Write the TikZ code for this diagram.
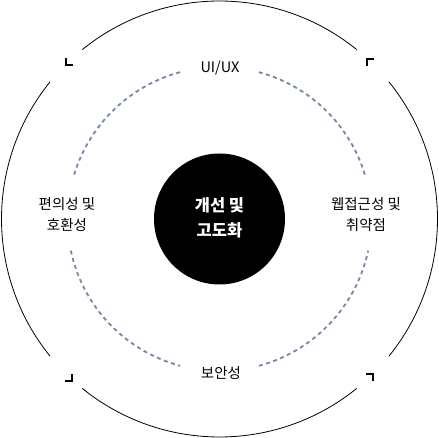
\documentclass[tikz,border=0pt]{standalone}
\usepackage{fontspec}
\setmainfont{Noto Sans CJK KR}
\definecolor{dashblue}{HTML}{7488A6}
\begin{document}
\begin{tikzpicture}[x=1pt,y=1pt,
    ring/.style={line width=0.8pt},
    track/.style={dashblue,line width=1.8pt,dash pattern=on 4pt off 3.5pt},
    tick/.style={line width=2pt},
    label/.style={align=center,font=\fontsize{14.5}{21}\selectfont}]
      \useasboundingbox (-219.5,-219) rectangle (219.5,219);
      \node[circle,fill=black,minimum size=131pt,inner sep=0pt] (core) at (0,0) {};
      \node[white,align=center,font=\fontsize{16.5}{25}\selectfont\bfseries]
        at (0,1) {개선 및\\고도화};
      \draw
        (0.5,151) node[label] (ux){UI/UX}
        (1.5,-154) node[label] (sec){보안성}
        (-152.5,4.5) node[label] (conv){편의성 및\\호환성}
        (146.5,4.5) node[label] (web){웹접근성 및\\취약점};
      \begin{scope}[ring]
        \draw (51:218) arc (51:129:218);
        \draw (141:218) arc (141:219:218);
        \draw (231:218) arc (231:309:218);
        \draw (321:218) arc (321:399:218);
      \end{scope}
      \begin{scope}[track]
        \draw (17:152) arc (17:75:152);
        \draw (105:152) arc (105:163:152);
        \draw (192:152) arc (192:255:152);
        \draw (285:152) arc (285:348:152);
      \end{scope}
      \begin{scope}[tick]
        \draw (-153.5,161) -- (-153.5,154) -- (-146.5,154);
        \draw (154.5,160) -- (147.5,160) -- (147.5,153);
        \draw (-147.5,-155) -- (-147.5,-162) -- (-154.5,-162);
        \draw (146.5,-155) -- (153.5,-155) -- (153.5,-162);
      \end{scope}
    \end{tikzpicture}
\end{document}
